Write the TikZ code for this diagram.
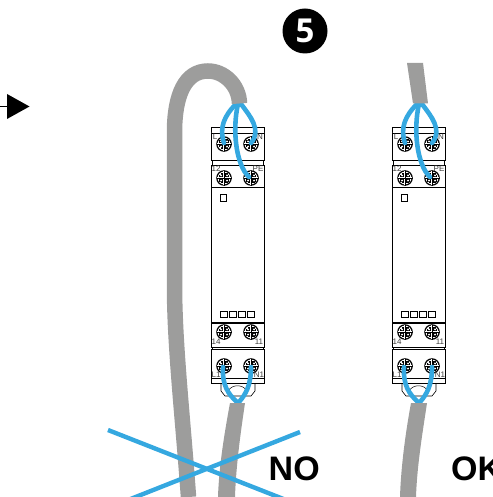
\documentclass[tikz,border=0pt]{standalone}
\usepackage{fontspec}
\setmainfont{Liberation Sans}
\newfontfamily\numfont{Open Sans}
\definecolor{wire}{HTML}{35A8E0}
\definecolor{sheath}{HTML}{9D9D9C}
\definecolor{lbl}{HTML}{3C3C3B}
\tikzset{
  outline/.style={draw=black,line width=0.6pt,fill=white},
  sheathline/.style={draw=sheath,line width=15.5pt,line cap=butt},
  sheathfill/.style={fill=sheath,draw=none},
  core/.style={draw=wire,line width=4.6pt,line cap=round},
  crossline/.style={draw=wire,line width=4.4pt},
  term/.style={font=\fontsize{8}{8}\selectfont,text=lbl,inner sep=0pt},
  verdict/.style={font=\fontsize{34}{34}\selectfont\bfseries,text=black,inner sep=0pt,anchor=west},
  led/.style={draw=black,line width=0.6pt,fill=white,minimum size=6.5pt,inner sep=0pt},
}
\newcommand{\screwat}[2]{%
  \begin{scope}[shift={(#1,#2)}]
    \fill[black] (0,0) circle (7.8);
    \fill[white] (0,0) circle (6.4);
    \fill[black] (-5,-3.5) rectangle (5,3.5);
    \fill[black] (-3.5,-5) rectangle (3.5,5);
    \draw[white,line width=1.1pt] (-7,0) -- (7,0) (0,-7) -- (0,7);
    \fill[white] (-3,-2.6) circle (1.1) (3,-2.6) circle (1.1) (-3,2.6) circle (1.1) (3,2.6) circle (1.1);
    \draw[black,line width=0.5pt] (-7.5,0) -- (7.5,0) (0,-7.5) -- (0,7.5);
  \end{scope}}
\newcommand{\relayunit}[1]{%
  \begin{scope}[xshift=#1]
    \draw[outline] (221,383) -- (221,391) -- (225,396) -- (251,396) -- (255,391) -- (255,383);
    \draw[black,line width=0.5pt] (228,391) .. controls (232,384) and (243,384) .. (247,391);
    \draw[outline] (211,187) rectangle (264.5,322);
    \draw[outline] (211,127) -- (264.5,127) -- (264.5,160) -- (211,160) -- cycle;
    \draw[outline] (211,133) -- (264.5,133);
    \draw[outline] (212,160) rectangle (263.5,165);
    \draw[outline] (211,165) rectangle (264.5,187);
    \draw[outline] (212,322) rectangle (263.5,323);
    \draw[outline] (211,323) rectangle (264.5,347);
    \draw[outline] (212,347) rectangle (263.5,349);
    \draw[outline] (211,349) rectangle (264.5,378);
    \draw[outline] (211,378) rectangle (264.5,383);
    \screwat{224}{144}\screwat{251}{144}
    \screwat{224}{178}\screwat{251}{178}
    \screwat{224}{332}\screwat{251}{332}
    \screwat{224}{366}\screwat{251}{366}
    \node[led] at (223.5,198) {};
    \node[led] at (224,314.5) {};
    \node[led] at (233,314.5) {};
    \node[led] at (242,314.5) {};
    \node[led] at (251,314.5) {};
    \node[term] at (215,137) {L};
    \node[term] at (260,137) {N};
    \node[term] at (216,169) {12};
    \node[term] at (258,169) {PE};
    \node[term] at (216,342) {14};
    \node[term] at (259,342) {11};
    \node[term] at (216,375) {L1};
    \node[term] at (259,375) {N1};
    \draw[core] (236,104) .. controls (224,116) and (219,128) .. (224,143);
    \draw[core] (241,104) .. controls (250,116) and (262,130) .. (251,143);
    \draw[core] (238,104) .. controls (232,130) and (236,165) .. (249,177);
    \draw[core] (223,367) .. controls (222,385) and (228,394) .. (237,402);
    \draw[core] (251,367) .. controls (251,385) and (246,394) .. (239,402);
  \end{scope}}
\begin{document}
\begin{tikzpicture}[x=1pt,y=-1pt]
  \useasboundingbox (0,0) rectangle (492,497);
  \clip (0,0) rectangle (492,497);
  % arrow
  \coordinate (arrowstart) at (0,106.5);
  \coordinate (arrowbase) at (7,106.5);
  \draw[black,line width=0.7pt] (arrowstart) -- (arrowbase);
  \fill[black] (7,94) -- (29.5,106.5) -- (7,119) -- cycle;
  % step number
  \node[circle,fill=black,minimum size=45pt,inner sep=0pt,text=white,font=\fontsize{33}{33}\selectfont\numfont\bfseries] (stepnum) at (305,31) {5};
  % units
  \relayunit{0pt}
  \relayunit{181pt}
  % left cable
  \draw[sheathline] (239.5,103.5) .. controls (239,85) and (224,71) .. (208,71)
     .. controls (185,71) and (175,95) .. (174.5,130)
     -- (174.5,290) .. controls (175,350) and (183,420) .. (188.5,497);
  \fill[sheathfill] (230,403) -- (245,403) .. controls (241,430) and (236,465) .. (235,497)
     -- (218,497) .. controls (219,465) and (225,430) .. (230,403) -- cycle;
  % right cable
  \fill[sheathfill] (407,63) -- (423,63) -- (428,103.5) -- (413,103.5) -- cycle;
  \fill[sheathfill] (411,403) -- (427,403) .. controls (423,430) and (417,465) .. (416,497)
     -- (400,497) .. controls (401,465) and (406,430) .. (411,403) -- cycle;
  % cross
  \coordinate (c1a) at (108,430);
  \coordinate (c1b) at (286,500);
  \coordinate (c2a) at (300,432);
  \coordinate (c2b) at (128,500);
  \draw[crossline] (c1a) -- (c1b);
  \draw[crossline] (c2a) -- (c2b);
  % verdicts
  \node[verdict] (no) at (268.5,469) {NO};
  \node[verdict] (ok) at (451,469) {OK};
\end{tikzpicture}
\end{document}
